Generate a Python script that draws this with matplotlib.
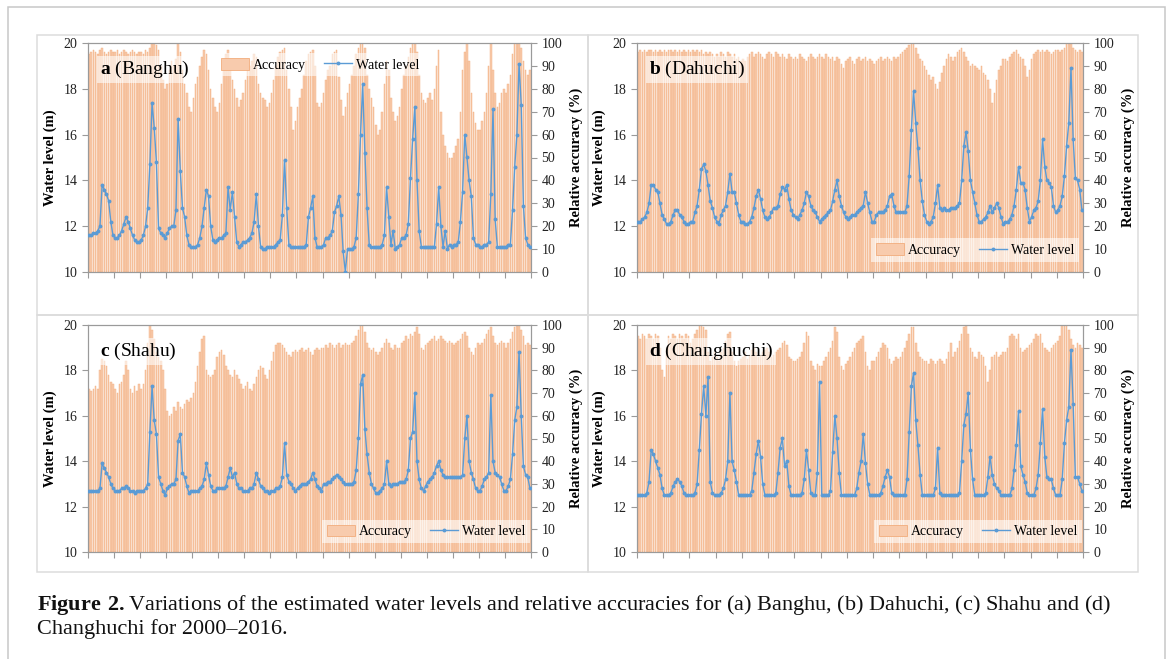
"""
Water level / relative accuracy panels for four lakes (2000-2016).
Monthly values read off the published figure.
"""

import matplotlib
matplotlib.use("Agg")   # headless
import matplotlib.pyplot as plt
import numpy as np
from matplotlib.lines import Line2D
from matplotlib.patches import Patch, Rectangle

plt.rcParams["font.family"] = ["Liberation Serif", "DejaVu Serif"]
plt.rcParams["mathtext.fontset"] = "custom"
plt.rcParams["mathtext.rm"] = "Liberation Serif"
plt.rcParams["mathtext.bf"] = "Liberation Serif:bold"

# ---------------------------------------------------------------------------
# Data: one row per year (2000..2016), 12 monthly values per row
# ---------------------------------------------------------------------------

years = list(range(2000, 2017))
lake_names = ["Banghu", "Dahuchi", "Shahu", "Changhuchi"]
panel_letters = ["a", "b", "c", "d"]

banghu_level = [
    [11.6, 11.6, 11.7, 11.7, 11.8, 12.0, 13.8, 13.6, 13.4, 13.1, 12.2, 11.6],
    [11.5, 11.5, 11.6, 11.8, 12.1, 12.4, 12.2, 11.9, 11.6, 11.4, 11.3, 11.3],
    [11.4, 11.6, 12.0, 12.8, 14.7, 17.4, 16.3, 14.8, 11.9, 11.7, 11.6, 11.5],
    [11.7, 11.9, 12.0, 12.0, 12.7, 16.7, 14.4, 12.8, 12.4, 11.6, 11.2, 11.1],
    [11.1, 11.1, 11.2, 11.5, 12.0, 12.8, 13.6, 13.3, 12.0, 11.4, 11.3, 11.4],
    [11.5, 11.5, 11.6, 11.7, 13.7, 12.7, 13.5, 12.4, 11.3, 11.1, 11.2, 11.3],
    [11.3, 11.4, 11.5, 11.7, 12.2, 13.4, 12.0, 11.1, 11.0, 11.0, 11.1, 11.1],
    [11.1, 11.1, 11.2, 11.3, 11.4, 12.5, 14.9, 12.8, 11.2, 11.1, 11.1, 11.1],
    [11.1, 11.1, 11.1, 11.1, 11.2, 12.4, 12.8, 13.3, 11.5, 11.1, 11.1, 11.1],
    [11.2, 11.5, 11.5, 11.6, 11.8, 12.6, 12.9, 13.3, 12.5, 10.9, 10.0, 11.0],
    [11.0, 11.0, 11.1, 11.5, 13.4, 16.0, 18.2, 15.2, 12.8, 11.2, 11.1, 11.1],
    [11.1, 11.1, 11.1, 11.2, 11.6, 13.7, 12.4, 11.2, 11.8, 11.0, 11.1, 11.2],
    [11.5, 11.5, 11.6, 12.1, 14.1, 15.8, 17.2, 14.0, 11.8, 11.1, 11.1, 11.1],
    [11.1, 11.1, 11.1, 11.1, 12.1, 13.7, 12.0, 11.1, 11.8, 11.0, 11.2, 11.1],
    [11.2, 11.2, 11.3, 12.2, 13.5, 16.0, 15.0, 14.0, 13.3, 11.5, 11.2, 11.2],
    [11.1, 11.1, 11.2, 11.2, 11.3, 13.4, 17.1, 12.3, 11.1, 11.1, 11.1, 11.1],
    [11.1, 11.2, 11.2, 12.7, 14.6, 16.0, 19.1, 17.3, 12.9, 11.5, 11.2, 11.1],
]
banghu_acc = [
    [95, 96, 97, 96, 95, 97, 98, 96, 95, 96, 97, 96],
    [96, 97, 95, 96, 97, 96, 95, 96, 97, 96, 95, 96],
    [96, 95, 97, 96, 98, 100, 100, 99, 97, 90, 84, 80],
    [82, 88, 92, 90, 93, 100, 96, 88, 82, 78, 72, 70],
    [76, 82, 85, 90, 94, 97, 95, 88, 80, 76, 72, 70],
    [74, 82, 90, 95, 97, 88, 84, 80, 76, 72, 75, 78],
    [84, 88, 90, 92, 95, 94, 82, 78, 76, 75, 72, 74],
    [78, 84, 90, 94, 96, 97, 98, 88, 80, 72, 62, 66],
    [72, 76, 80, 86, 92, 95, 96, 97, 90, 74, 72, 74],
    [78, 84, 88, 90, 95, 96, 97, 85, 75, 68, 72, 78],
    [82, 86, 90, 95, 98, 100, 100, 98, 86, 80, 76, 72],
    [64, 60, 62, 70, 82, 92, 88, 76, 70, 66, 68, 72],
    [80, 86, 90, 94, 98, 100, 100, 96, 86, 78, 75, 74],
    [76, 78, 75, 80, 90, 97, 70, 60, 55, 52, 50, 50],
    [52, 55, 58, 70, 88, 96, 100, 92, 78, 70, 65, 62],
    [62, 66, 70, 78, 90, 100, 88, 78, 72, 74, 78, 80],
    [78, 82, 86, 95, 100, 100, 100, 98, 92, 88, 86, 88],
]

dahuchi_level = [
    [12.2, 12.2, 12.3, 12.4, 12.6, 13.0, 13.8, 13.8, 13.6, 13.5, 13.0, 12.5],
    [12.3, 12.1, 12.1, 12.2, 12.5, 12.7, 12.7, 12.5, 12.4, 12.2, 12.1, 12.1],
    [12.2, 12.2, 12.6, 12.9, 13.6, 14.5, 14.7, 14.4, 13.8, 13.1, 12.8, 12.4],
    [12.2, 12.1, 12.5, 12.7, 12.9, 13.5, 14.3, 13.5, 13.5, 13.0, 12.5, 12.2],
    [12.2, 12.1, 12.1, 12.2, 12.4, 12.8, 13.3, 13.6, 13.2, 12.7, 12.4, 12.3],
    [12.4, 12.6, 12.8, 12.8, 12.9, 13.4, 13.7, 13.6, 13.8, 13.2, 12.7, 12.5],
    [12.4, 12.3, 12.5, 12.7, 13.0, 13.5, 13.3, 12.9, 12.7, 12.6, 12.4, 12.2],
    [12.3, 12.4, 12.5, 12.6, 12.7, 13.1, 13.6, 14.0, 13.3, 12.9, 12.6, 12.4],
    [12.3, 12.4, 12.5, 12.5, 12.6, 12.7, 12.8, 12.9, 13.5, 13.0, 12.6, 12.2],
    [12.2, 12.5, 12.6, 12.6, 12.6, 12.7, 12.9, 13.3, 13.4, 12.9, 12.6, 12.6],
    [12.6, 12.6, 12.6, 12.9, 14.2, 16.2, 17.9, 16.5, 15.4, 14.0, 13.1, 12.5],
    [12.2, 12.1, 12.2, 12.4, 13.0, 13.8, 12.8, 12.7, 12.8, 12.7, 12.7, 12.8],
    [12.8, 12.8, 12.9, 13.0, 14.0, 15.5, 16.1, 15.3, 14.0, 13.5, 13.0, 12.5],
    [12.2, 12.2, 12.3, 12.4, 12.6, 12.9, 12.6, 12.8, 13.0, 12.8, 12.4, 12.1],
    [12.2, 12.2, 12.3, 12.5, 12.9, 13.6, 14.6, 13.9, 13.9, 13.6, 12.8, 12.2],
    [12.4, 12.7, 12.8, 13.1, 14.0, 15.8, 14.6, 14.0, 13.9, 13.7, 12.9, 12.6],
    [12.7, 12.9, 13.3, 14.2, 15.5, 16.5, 18.9, 15.8, 14.1, 14.0, 13.6, 12.7],
]
dahuchi_acc = [
    [96, 97, 96, 97, 96, 97, 97, 96, 97, 96, 97, 96],
    [97, 96, 97, 97, 96, 97, 96, 97, 96, 97, 96, 97],
    [96, 97, 96, 97, 96, 97, 95, 96, 95, 96, 95, 94],
    [95, 94, 96, 95, 94, 96, 95, 94, 95, 93, 94, 92],
    [93, 92, 94, 95, 96, 94, 95, 96, 95, 94, 93, 95],
    [96, 95, 94, 96, 95, 94, 95, 94, 93, 95, 94, 93],
    [94, 93, 95, 94, 93, 92, 94, 95, 94, 93, 94, 95],
    [94, 93, 95, 94, 93, 94, 92, 94, 93, 91, 89, 92],
    [93, 94, 92, 91, 93, 94, 92, 93, 94, 92, 93, 92],
    [91, 92, 93, 94, 92, 93, 94, 93, 92, 94, 93, 94],
    [95, 96, 97, 98, 99, 100, 100, 98, 95, 93, 92, 90],
    [88, 86, 84, 85, 82, 80, 83, 87, 90, 93, 95, 94],
    [92, 94, 96, 97, 98, 96, 94, 92, 90, 91, 90, 89],
    [88, 90, 87, 86, 84, 80, 74, 78, 84, 88, 90, 93],
    [93, 92, 94, 95, 96, 97, 95, 94, 93, 90, 85, 88],
    [93, 95, 96, 97, 96, 97, 96, 97, 96, 95, 96, 97],
    [97, 96, 97, 98, 100, 100, 100, 98, 97, 96, 97, 96],
]

shahu_level = [
    [12.7, 12.7, 12.7, 12.7, 12.7, 12.8, 13.9, 13.7, 13.5, 13.3, 13.0, 12.8],
    [12.7, 12.7, 12.7, 12.8, 12.8, 12.9, 12.8, 12.7, 12.7, 12.6, 12.7, 12.7],
    [12.7, 12.7, 12.8, 13.0, 15.3, 17.3, 15.8, 15.2, 13.3, 13.0, 12.7, 12.5],
    [12.8, 12.9, 13.0, 13.0, 13.2, 14.9, 15.2, 13.5, 13.3, 12.9, 12.6, 12.7],
    [12.7, 12.7, 12.7, 12.8, 12.9, 13.2, 13.9, 13.4, 12.9, 12.7, 12.7, 12.8],
    [12.8, 12.8, 12.8, 12.9, 13.3, 13.7, 13.3, 13.5, 13.0, 12.8, 12.8, 12.7],
    [12.7, 12.7, 12.8, 12.8, 13.0, 13.5, 13.2, 12.9, 12.8, 12.7, 12.7, 12.6],
    [12.7, 12.7, 12.8, 12.8, 12.9, 13.3, 14.8, 13.4, 13.1, 13.0, 12.8, 12.7],
    [12.8, 12.9, 13.0, 13.0, 13.0, 13.1, 13.2, 13.5, 13.2, 12.9, 12.8, 12.7],
    [13.0, 13.0, 13.1, 13.1, 13.2, 13.3, 13.4, 13.3, 13.2, 13.1, 13.0, 13.0],
    [13.0, 13.0, 13.1, 13.6, 15.0, 17.4, 17.8, 15.4, 14.3, 13.5, 13.0, 12.8],
    [12.6, 12.6, 12.7, 12.8, 13.0, 14.0, 13.0, 12.9, 13.0, 13.0, 13.0, 13.1],
    [13.1, 13.1, 13.2, 13.6, 15.0, 15.3, 17.0, 14.0, 13.2, 12.8, 12.7, 12.9],
    [13.1, 13.2, 13.3, 13.5, 13.8, 14.0, 13.6, 13.4, 13.3, 13.3, 13.3, 13.3],
    [13.3, 13.3, 13.3, 13.3, 13.4, 15.0, 16.0, 14.0, 13.5, 13.2, 12.8, 12.7],
    [12.7, 12.9, 13.2, 13.3, 13.5, 16.9, 14.0, 13.5, 13.4, 13.3, 13.0, 12.7],
    [12.7, 12.9, 13.2, 14.3, 15.8, 16.4, 18.8, 16.0, 13.8, 13.4, 13.3, 12.8],
]
shahu_acc = [
    [72, 71, 72, 73, 72, 80, 85, 84, 82, 78, 75, 74],
    [72, 70, 74, 75, 78, 84, 80, 72, 70, 73, 71, 74],
    [72, 74, 80, 92, 100, 98, 94, 88, 86, 84, 80, 72],
    [62, 60, 61, 64, 62, 66, 64, 63, 65, 67, 66, 68],
    [70, 75, 82, 88, 94, 95, 80, 78, 77, 78, 80, 86],
    [88, 89, 87, 82, 80, 78, 77, 80, 78, 76, 74, 72],
    [73, 75, 72, 71, 74, 77, 80, 82, 81, 78, 76, 80],
    [84, 88, 91, 92, 92, 91, 90, 88, 87, 86, 88, 89],
    [88, 89, 90, 88, 89, 90, 88, 87, 89, 90, 89, 90],
    [90, 91, 90, 92, 91, 90, 91, 92, 90, 91, 92, 91],
    [91, 92, 93, 95, 98, 100, 100, 97, 92, 90, 89, 90],
    [88, 87, 88, 90, 92, 94, 92, 90, 89, 91, 90, 90],
    [92, 93, 95, 94, 96, 95, 97, 99, 96, 90, 89, 91],
    [92, 93, 94, 95, 93, 94, 95, 94, 93, 92, 93, 92],
    [91, 92, 93, 94, 96, 97, 95, 90, 88, 87, 90, 92],
    [91, 92, 94, 96, 98, 99, 95, 92, 91, 92, 93, 92],
    [90, 92, 94, 97, 99, 100, 100, 98, 95, 91, 92, 91],
]

changhuchi_level = [
    [12.5, 12.5, 12.5, 12.5, 12.6, 13.1, 14.5, 14.3, 14.0, 13.7, 13.4, 12.8],
    [12.5, 12.5, 12.5, 12.6, 12.9, 13.1, 13.2, 13.1, 12.9, 12.6, 12.5, 12.5],
    [12.5, 12.5, 12.6, 13.0, 14.5, 16.1, 17.3, 16.0, 17.7, 13.1, 12.6, 12.5],
    [12.5, 12.5, 12.6, 12.8, 13.2, 14.0, 17.0, 14.0, 13.6, 13.1, 12.5, 12.5],
    [12.5, 12.5, 12.5, 12.5, 12.7, 13.5, 14.3, 14.9, 14.2, 13.0, 12.5, 12.5],
    [12.5, 12.5, 12.5, 12.6, 13.5, 14.6, 15.0, 13.8, 14.0, 12.9, 12.5, 12.5],
    [12.5, 12.5, 12.5, 12.6, 13.2, 14.5, 13.6, 12.6, 12.5, 12.5, 13.5, 17.5],
    [12.5, 12.5, 12.5, 12.5, 12.7, 14.4, 16.0, 15.0, 13.5, 12.5, 12.5, 12.5],
    [12.5, 12.5, 12.5, 12.5, 12.8, 13.5, 14.0, 15.2, 13.9, 13.0, 12.5, 12.5],
    [12.5, 12.5, 12.5, 12.6, 12.9, 13.3, 13.6, 13.3, 12.6, 12.5, 12.5, 12.5],
    [12.5, 12.5, 12.5, 13.2, 15.3, 17.3, 17.9, 15.8, 14.7, 13.4, 12.5, 12.5],
    [12.5, 12.5, 12.5, 12.5, 12.8, 14.6, 12.6, 12.5, 12.5, 12.5, 12.5, 12.5],
    [12.5, 12.5, 12.5, 12.6, 14.0, 15.6, 16.1, 17.0, 14.5, 13.2, 12.5, 12.5],
    [12.5, 12.5, 12.5, 12.6, 13.3, 14.2, 13.4, 13.0, 12.8, 12.7, 12.5, 12.5],
    [12.5, 12.5, 12.5, 12.8, 13.6, 14.7, 16.2, 13.8, 13.4, 13.1, 12.6, 12.5],
    [12.5, 12.5, 12.8, 13.4, 14.8, 16.3, 14.2, 13.3, 13.2, 13.2, 12.8, 12.5],
    [12.5, 12.5, 13.2, 14.8, 15.8, 16.4, 18.9, 16.5, 13.3, 13.3, 13.0, 12.7],
]
changhuchi_acc = [
    [95, 94, 96, 95, 94, 96, 95, 94, 96, 95, 90, 80],
    [77, 90, 95, 94, 96, 95, 94, 96, 95, 94, 96, 95],
    [92, 94, 96, 98, 100, 100, 99, 98, 88, 84, 86, 88],
    [86, 84, 88, 90, 93, 96, 97, 88, 84, 82, 84, 85],
    [86, 88, 85, 87, 89, 90, 88, 86, 87, 88, 89, 90],
    [88, 86, 87, 88, 89, 90, 92, 93, 91, 86, 85, 84],
    [84, 85, 86, 88, 92, 97, 95, 84, 82, 80, 83, 82],
    [82, 84, 86, 88, 90, 93, 99, 97, 86, 82, 80, 83],
    [84, 86, 88, 90, 92, 93, 94, 95, 88, 82, 80, 84],
    [84, 86, 88, 90, 92, 91, 90, 85, 83, 84, 86, 85],
    [86, 88, 90, 93, 96, 99, 99, 92, 88, 86, 85, 84],
    [84, 83, 85, 84, 83, 84, 85, 84, 83, 85, 88, 92],
    [86, 88, 90, 93, 96, 99, 100, 96, 90, 88, 86, 85],
    [88, 87, 86, 82, 75, 80, 86, 87, 88, 86, 87, 88],
    [88, 90, 95, 96, 95, 94, 96, 90, 88, 89, 90, 91],
    [92, 94, 96, 95, 96, 92, 90, 89, 88, 90, 91, 92],
    [93, 95, 100, 100, 100, 98, 94, 91, 90, 92, 91, 90],
]

caption_bold = "Figure\\ 2."
caption_line1 = ("Variations of the estimated water levels and relative accuracies "
                 "for (a) Banghu, (b) Dahuchi, (c) Shahu and (d)")
caption_line2 = "Changhuchi for 2000\u20132016."

# ---------------------------------------------------------------------------
# Styling
# ---------------------------------------------------------------------------

W, H = 1171, 659
BAR_FACE = "#F8CBAD"
BAR_EDGE = "#F2AC7C"
LINE_BLUE = "#5B9BD5"
SPINE = "#9a9a9a"
BOX = "#dcdcdc"


def fig_rect(left, top, right, bottom):
    """Pixel box (from top-left) -> figure-fraction rect."""
    return [left / W, 1 - bottom / H, (right - left) / W, (bottom - top) / H]


def draw_panel(fig, rect, level, acc, letter, name, legend_anchor):
    x = 2000 + (np.arange(len(years) * 12) + 0.5) / 12.0
    level = np.asarray(level, dtype=float).ravel()
    acc = np.asarray(acc, dtype=float).ravel()

    ax = fig.add_axes(rect)
    ax2 = ax.twinx()
    ax.set_zorder(ax2.get_zorder() + 1)
    ax.patch.set_visible(False)

    ax2.bar(x, acc, width=0.72 / 12, color=BAR_FACE, edgecolor=BAR_EDGE,
            linewidth=0.3, zorder=1)
    ax2.set_ylim(0, 100)
    ax2.set_yticks(np.arange(0, 101, 10))
    ax2.set_ylabel("Relative accuracy (%)", fontsize=10.5, fontweight="bold",
                   labelpad=5)

    ax.plot(x, level, color=LINE_BLUE, linewidth=1.0, marker="o",
            markersize=2.8, markeredgewidth=0, zorder=3)
    ax.set_xlim(2000, 2017)
    ax.set_ylim(10, 20)
    ax.set_yticks(np.arange(10, 21, 2))
    ax.set_xticks(np.arange(2000, 2018))
    ax.set_xticklabels([])
    ax.set_ylabel("Water level (m)", fontsize=10.5, fontweight="bold",
                  labelpad=5)

    for a in (ax, ax2):
        for s in a.spines.values():
            s.set_color(SPINE)
            s.set_linewidth(0.8)
        a.tick_params(colors=SPINE, labelcolor="#222222", labelsize=10,
                      length=4, width=0.8, direction="out")

    ax.text(0.027, 0.885, r"$\mathbf{%s}$ (%s)" % (letter, name),
            transform=ax.transAxes, fontsize=14, ha="left", va="center",
            zorder=4,
            bbox=dict(facecolor="white", alpha=0.6, edgecolor="none",
                      boxstyle="square,pad=0.15"))

    handles = [
        Patch(facecolor=BAR_FACE, edgecolor=BAR_EDGE, linewidth=0.6),
        Line2D([], [], color=LINE_BLUE, linewidth=1.0, marker="o",
               markersize=2.8, markeredgewidth=0),
    ]
    leg = ax.legend(handles, ["Accuracy", "Water level"], ncol=2,
                    loc="center", bbox_to_anchor=legend_anchor,
                    frameon=True, fancybox=False, framealpha=0.6,
                    facecolor="white", edgecolor="none", fontsize=10,
                    handlelength=2.0, handleheight=0.9, handletextpad=0.3,
                    columnspacing=1.3, borderpad=0.35)
    leg.set_zorder(5)
    return ax, ax2


fig = plt.figure(figsize=(W / 100, H / 100), dpi=100)

# frame and panel boxes
fig.add_artist(Rectangle((8 / W, -0.05), (1165 - 8) / W, 1.05 - 7 / H,
                         transform=fig.transFigure, fill=False,
                         edgecolor="#c8c8c8", linewidth=1.1))
for (l, t, r, b) in [(37, 35, 588, 315), (588, 35, 1138, 315),
                     (37, 315, 588, 572), (588, 315, 1138, 572)]:
    fig.add_artist(Rectangle((l / W, 1 - b / H), (r - l) / W, (b - t) / H,
                             transform=fig.transFigure, fill=False,
                             edgecolor=BOX, linewidth=1.1))

series = [
    (banghu_level, banghu_acc),
    (dahuchi_level, dahuchi_acc),
    (shahu_level, shahu_acc),
    (changhuchi_level, changhuchi_acc),
]
rects = [
    fig_rect(88, 43, 531, 272),
    fig_rect(637, 43, 1083, 272),
    fig_rect(88, 325, 531, 552),
    fig_rect(637, 325, 1083, 552),
]
anchors = [(0.524, 0.905), (0.758, 0.096), (0.763, 0.09), (0.765, 0.09)]

for (lvl, acc), rect, letter, name, anc in zip(series, rects, panel_letters,
                                                lake_names, anchors):
    draw_panel(fig, rect, lvl, acc, letter, name, anc)

# caption
fig.text(37 / W, 1 - 605 / H,
         r"$\mathbf{%s}$" % caption_bold + caption_line1,
         fontsize=16, ha="left", va="center", color="#111111")
fig.text(37 / W, 1 - 629 / H, caption_line2,
         fontsize=16, ha="left", va="center", color="#111111")

fig.savefig("out.png", dpi=100)
plt.close(fig)
